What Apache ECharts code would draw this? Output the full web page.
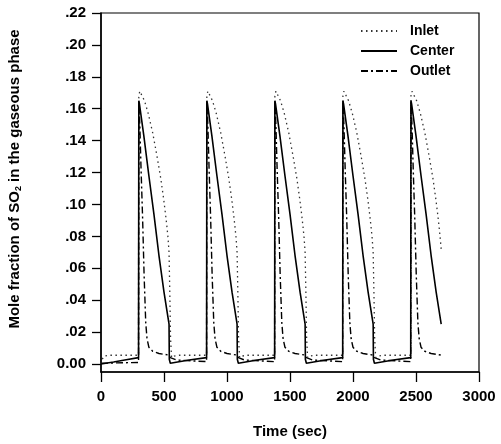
<!DOCTYPE html>
<html>
<head>
<meta charset="utf-8">
<script src="https://cdn.jsdelivr.net/npm/echarts@6/dist/echarts.min.js"></script>
<style>
  html, body { margin: 0; padding: 0; background: #fff; }
  #chart { width: 501px; height: 444px; }
</style>
</head>
<body>
<div id="chart"></div>
<script>
// Tick labels
const xTicks = [0, 500, 1000, 1500, 2000, 2500, 3000];
const yTicks = [0, 0.02, 0.04, 0.06, 0.08, 0.10, 0.12, 0.14, 0.16, 0.18, 0.20, 0.22];
const seriesNames = ['Inlet', 'Center', 'Outlet'];

// Inlet (dotted): [time (s), mole fraction]
const inletData = [
  [0,0],[10,0.003],[25,0.005],[60,0.0055],[298,0.0055],
  [300,0.168],[308,0.171],[322,0.170],[345,0.165],[375,0.157],[410,0.145],[445,0.130],[475,0.116],[498,0.103],[512,0.094],[522,0.087],[532,0.079],[540,0.070],[546,0.045],[552,0.016],[560,0.004],[580,0.005],[620,0.0055],[838,0.0055],
  [840,0.168],[848,0.171],[862,0.170],[885,0.165],[915,0.157],[950,0.145],[985,0.130],[1015,0.116],[1038,0.103],[1052,0.094],[1062,0.087],[1072,0.079],[1080,0.070],[1086,0.045],[1092,0.016],[1100,0.004],[1120,0.005],[1160,0.0055],[1378,0.0055],
  [1380,0.168],[1388,0.171],[1402,0.170],[1425,0.165],[1455,0.157],[1490,0.145],[1525,0.130],[1555,0.116],[1578,0.103],[1592,0.094],[1602,0.087],[1612,0.079],[1620,0.070],[1626,0.045],[1632,0.016],[1640,0.004],[1660,0.005],[1700,0.0055],[1918,0.0055],
  [1920,0.168],[1928,0.171],[1942,0.170],[1965,0.165],[1995,0.157],[2030,0.145],[2065,0.130],[2095,0.116],[2118,0.103],[2132,0.094],[2142,0.087],[2152,0.079],[2160,0.070],[2166,0.045],[2172,0.016],[2180,0.004],[2200,0.005],[2240,0.0055],[2458,0.0055],
  [2460,0.168],[2468,0.171],[2482,0.170],[2505,0.165],[2535,0.157],[2570,0.145],[2605,0.130],[2635,0.116],[2658,0.103],[2672,0.094],[2682,0.087],[2692,0.079],[2700,0.072]
];

// Center (solid)
const centerData = [
  [0,0],[100,0.0013],[200,0.0027],[298,0.004],
  [300,0.165],[305,0.163],[340,0.143],[380,0.118],[420,0.094],[460,0.068],[500,0.045],[540,0.025],[542,0.003],[550,0.0005],[700,0.0025],[838,0.004],
  [840,0.165],[845,0.163],[880,0.143],[920,0.118],[960,0.094],[1000,0.068],[1040,0.045],[1080,0.025],[1082,0.003],[1090,0.0005],[1240,0.0025],[1378,0.004],
  [1380,0.165],[1385,0.163],[1420,0.143],[1460,0.118],[1500,0.094],[1540,0.068],[1580,0.045],[1620,0.025],[1622,0.003],[1630,0.0005],[1780,0.0025],[1918,0.004],
  [1920,0.165],[1925,0.163],[1960,0.143],[2000,0.118],[2040,0.094],[2080,0.068],[2120,0.045],[2160,0.025],[2162,0.003],[2170,0.0005],[2320,0.0025],[2458,0.004],
  [2460,0.165],[2465,0.163],[2500,0.143],[2540,0.118],[2580,0.094],[2620,0.068],[2660,0.045],[2700,0.025]
];

// Outlet (dash-dot)
const outletData = [
  [0,0.0005],[298,0.001],
  [300,0.165],[308,0.150],[318,0.122],[330,0.092],[342,0.056],[355,0.026],[365,0.016],[380,0.0105],[410,0.008],[460,0.0066],[540,0.0056],[550,0.004],[600,0.0025],[838,0.0015],
  [840,0.165],[848,0.150],[858,0.122],[870,0.092],[882,0.056],[895,0.026],[905,0.016],[920,0.0105],[950,0.008],[1000,0.0066],[1080,0.0056],[1090,0.004],[1140,0.0025],[1378,0.0015],
  [1380,0.165],[1388,0.150],[1398,0.122],[1410,0.092],[1422,0.056],[1435,0.026],[1445,0.016],[1460,0.0105],[1490,0.008],[1540,0.0066],[1620,0.0056],[1630,0.004],[1680,0.0025],[1918,0.0015],
  [1920,0.165],[1928,0.150],[1938,0.122],[1950,0.092],[1962,0.056],[1975,0.026],[1985,0.016],[2000,0.0105],[2030,0.008],[2080,0.0066],[2160,0.0056],[2170,0.004],[2220,0.0025],[2458,0.0015],
  [2460,0.165],[2468,0.150],[2478,0.122],[2490,0.092],[2502,0.056],[2515,0.026],[2525,0.016],[2540,0.0105],[2570,0.008],[2620,0.0066],[2700,0.0056]
];

const FONT = '"Liberation Sans", Arial, Helvetica, sans-serif';
const chart = echarts.init(document.getElementById('chart'), null, { renderer: 'canvas' });
const noSymbol = { color: 'rgba(0,0,0,0)', borderWidth: 0, borderColor: 'rgba(0,0,0,0)' };

const option = {
  backgroundColor: '#ffffff',
  animation: false,
  grid: {
    left: 101, right: 22, top: 13, bottom: 72,
    show: true, borderColor: '#000', borderWidth: 1.2,
    containLabel: false, outerBoundsMode: 'none'
  },
  legend: {
    orient: 'vertical',
    left: 360, top: 23,
    itemWidth: 36, itemHeight: 10, itemGap: 4,
    padding: 0,
    itemStyle: { opacity: 0 },
    textStyle: { fontFamily: FONT, fontSize: 14, fontWeight: 'bold', color: '#000', lineHeight: 16, padding: [0, 0, 0, 8] },
    data: seriesNames
  },
  xAxis: {
    type: 'value',
    min: xTicks[0], max: xTicks[xTicks.length - 1], interval: 500,
    name: 'Time (sec)', nameLocation: 'middle', nameGap: 52,
    nameTextStyle: { fontFamily: FONT, fontSize: 15, fontWeight: 'bold', color: '#000' },
    axisLine: { onZero: false, lineStyle: { color: '#000', width: 1.5 } },
    axisTick: { show: true, inside: false, length: 10, lineStyle: { color: '#000', width: 1.3 } },
    axisLabel: {
      fontFamily: FONT, fontSize: 15, fontWeight: 'bold', color: '#000', margin: 17,
      formatter: function (v) { return String(v); }
    },
    splitLine: { show: false }
  },
  yAxis: {
    type: 'value',
    min: -0.005, max: 0.22,
    name: 'Mole fraction of SO{sub|2} in the gaseous phase',
    nameLocation: 'middle', nameGap: 78,
    nameTextStyle: {
      fontFamily: FONT, fontSize: 15, fontWeight: 'bold', color: '#000',
      padding: [0, 0, 0, 27],
      rich: { sub: { fontFamily: FONT, fontSize: 9, fontWeight: 'bold', color: '#000', padding: [7, 0, 0, 0] } }
    },
    axisLine: { onZero: false, lineStyle: { color: '#000', width: 1.5 } },
    axisTick: { show: true, inside: false, length: 9, customValues: yTicks, lineStyle: { color: '#000', width: 1.3 } },
    axisLabel: {
      fontFamily: FONT, fontSize: 15, fontWeight: 'bold', color: '#000', margin: 15,
      customValues: yTicks,
      formatter: function (v) {
        if (Math.abs(v) < 1e-9) return '0.00';
        return v.toFixed(2).replace(/^0/, '');
      }
    },
    splitLine: { show: false }
  },
  series: [
    {
      name: seriesNames[0], type: 'line', data: inletData, symbol: 'none', smooth: false,
      itemStyle: noSymbol,
      lineStyle: { color: '#333', width: 1.3, type: [1.5, 3.5] }, z: 3
    },
    {
      name: seriesNames[1], type: 'line', data: centerData, symbol: 'none', smooth: false,
      itemStyle: noSymbol,
      lineStyle: { color: '#000', width: 1.6, type: 'solid' }, z: 4
    },
    {
      name: seriesNames[2], type: 'line', data: outletData, symbol: 'none', smooth: false,
      itemStyle: noSymbol,
      lineStyle: { color: '#000', width: 1.4, type: [7, 3, 2, 3] }, z: 2
    }
  ]
};
chart.setOption(option);
</script>
</body>
</html>
